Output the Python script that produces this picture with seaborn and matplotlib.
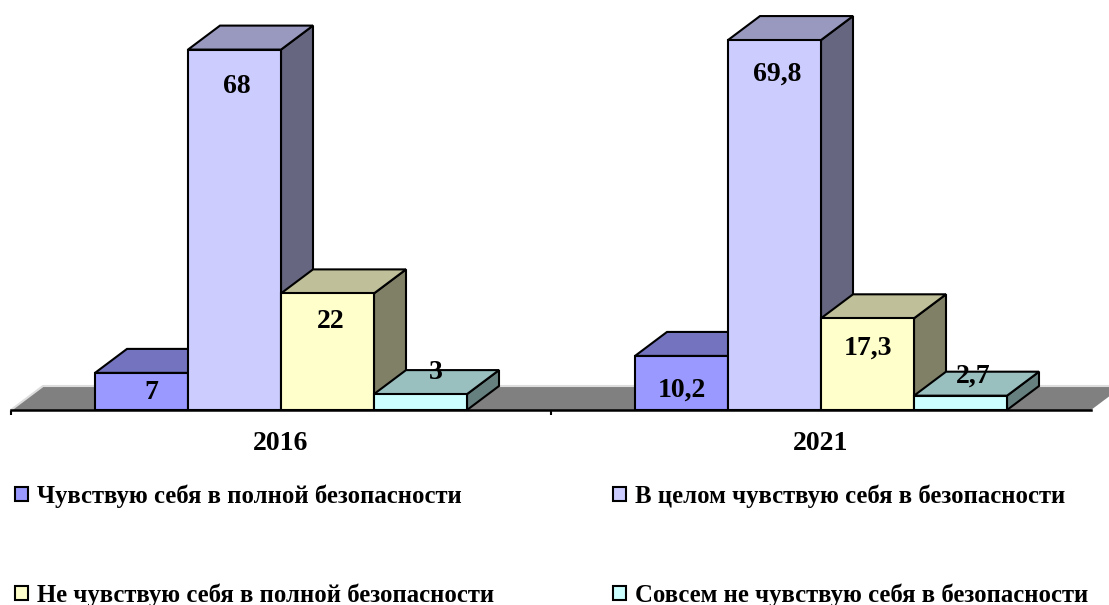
from matplotlib.patches import Polygon
import matplotlib.colors as mcolors
import matplotlib.pyplot as plt
import seaborn as sns
import pandas as pd
import numpy as np


years = ['2016', '2021']
categories = [
    'Чувствую себя в полной безопасности',
    'В целом чувствую себя в безопасности',
    'Не чувствую себя в полной безопасности',
    'Совсем не чувствую себя в безопасности',
]
values_2016 = [7, 68, 22, 3]
values_2021 = [10.2, 69.8, 17.3, 2.7]
labels_2016 = ['7', '68', '22', '3']
labels_2021 = ['10,2', '69,8', '17,3', '2,7']
colors = ['#9999FF', '#CCCCFF', '#FFFFCC', '#CCFFFF']

# label nudges from the bar top centre, in pixels
nudge_2016 = [(10, -20), (2, -37), (3, -28), (15, 22)]
nudge_2021 = [(0, -34), (3, -34), (0, -30), (13, 20)]

W, H = 1109, 605
AXIS_LEFT, AXIS_RIGHT, AXIS_Y = 11, 1091, 410
PX_PER_UNIT = 5.3
DEPTH_X, DEPTH_Y = 32, 24
EDGE = 1.5


def shade(color, factor):
    r, g, b = mcolors.to_rgb(color)
    return (r * factor, g * factor, b * factor)


def add_box_faces(ax, bar, color, zorder, dx, dy):
    x0, x1 = bar.get_x(), bar.get_x() + bar.get_width()
    top = bar.get_height()
    top_face = [(x0, top), (x1, top), (x1 + dx, top + dy), (x0 + dx, top + dy)]
    side_face = [(x1, 0), (x1 + dx, dy), (x1 + dx, top + dy), (x1, top)]
    ax.add_patch(Polygon(side_face, closed=True, facecolor=shade(color, 0.5), edgecolor='black',
                         linewidth=EDGE, joinstyle='miter', clip_on=False, zorder=zorder))
    ax.add_patch(Polygon(top_face, closed=True, facecolor=shade(color, 0.75), edgecolor='black',
                         linewidth=EDGE, joinstyle='miter', clip_on=False, zorder=zorder))


def main():
    sns.set_style('white')
    plt.rcParams['font.family'] = ['Liberation Serif', 'DejaVu Serif']
    plt.rcParams['font.weight'] = 'bold'

    df = pd.DataFrame({
        'year': np.repeat(years, len(categories)),
        'category': categories * len(years),
        'value': values_2016 + values_2021,
    })

    figure = plt.figure(figsize=(W / 100, H / 100), dpi=100)
    ax = figure.add_axes([AXIS_LEFT / W, 1 - AXIS_Y / H, (AXIS_RIGHT - AXIS_LEFT) / W, AXIS_Y / H])
    ax.patch.set_alpha(0)

    px_per_group = (AXIS_RIGHT - AXIS_LEFT) / len(years)
    sns.barplot(data=df, x='year', y='value', hue='category', hue_order=categories, palette=colors,
                width=372 / px_per_group, gap=0, saturation=1, edgecolor='black', linewidth=EDGE,
                errorbar=None, ax=ax)

    ax.set_xlim(-0.5, len(years) - 0.5)
    ax.set_ylim(0, AXIS_Y / PX_PER_UNIT)
    dx = DEPTH_X / px_per_group
    dy = DEPTH_Y / PX_PER_UNIT

    # grey floor behind the bars, light line only on its back and left edges
    floor = [(-0.5, 0), (len(years) - 0.5, 0), (len(years) - 0.5 + dx, dy), (-0.5 + dx, dy)]
    ax.add_patch(Polygon(floor, closed=True, facecolor='#808080', edgecolor='none', clip_on=False, zorder=1))
    ax.plot([floor[0][0], floor[3][0], floor[2][0]], [floor[0][1], floor[3][1], floor[2][1]],
            color='#DDDDDD', linewidth=1.5, clip_on=False, zorder=1)

    for i, (container, color) in enumerate(zip(ax.containers, colors)):
        for bar in container:
            bar.set_zorder(3 + i * 2)
            add_box_faces(ax, bar, color, 2 + i * 2, dx, dy)

    all_labels = [labels_2016, labels_2021]
    all_nudges = [nudge_2016, nudge_2021]
    for i, container in enumerate(ax.containers):
        for j, bar in enumerate(container):
            nx, ny = all_nudges[j][i]
            ax.annotate(all_labels[j][i], (bar.get_x() + bar.get_width() / 2, bar.get_height()),
                        xytext=(nx * 0.72, ny * 0.72), textcoords='offset points', ha='center', va='center',
                        fontsize=20, fontweight='bold', color='black', zorder=20, annotation_clip=False)

    # ticks sit on the group boundaries, labels in the group centres
    ax.set_xticks(np.arange(len(years)) - 0.5, [''] * len(years))
    ax.set_xticks(np.arange(len(years)), years, minor=True)
    ax.tick_params(axis='x', which='major', bottom=True, length=3.6, width=1.5, color='black')
    ax.tick_params(axis='x', which='minor', bottom=False, length=0, pad=15, labelsize=20, labelcolor='black')
    ax.set_xlabel('')
    ax.set_ylabel('')
    ax.set_yticks([])
    sns.despine(ax=ax, left=True)
    ax.spines['bottom'].set_linewidth(1.8)
    ax.spines['bottom'].set_color('black')
    ax.spines['bottom'].set_zorder(15)

    handles, names = ax.get_legend_handles_labels()
    order = [0, 2, 1, 3]
    ax.legend([handles[k] for k in order], [names[k] for k in order], ncol=2, frameon=False,
              loc='upper left', bbox_to_anchor=(8 / W, 1 - 477 / H), bbox_transform=figure.transFigure,
              prop={'family': 'Liberation Serif', 'weight': 'bold', 'size': 17.8}, labelcolor='black',
              handlelength=0.52, handleheight=0.52, handletextpad=0.36, labelspacing=3.05,
              columnspacing=4.82, borderpad=0.3, borderaxespad=0)

    plt.savefig('out.png', dpi=100)
    plt.close()


if __name__ == '__main__':
    main()
